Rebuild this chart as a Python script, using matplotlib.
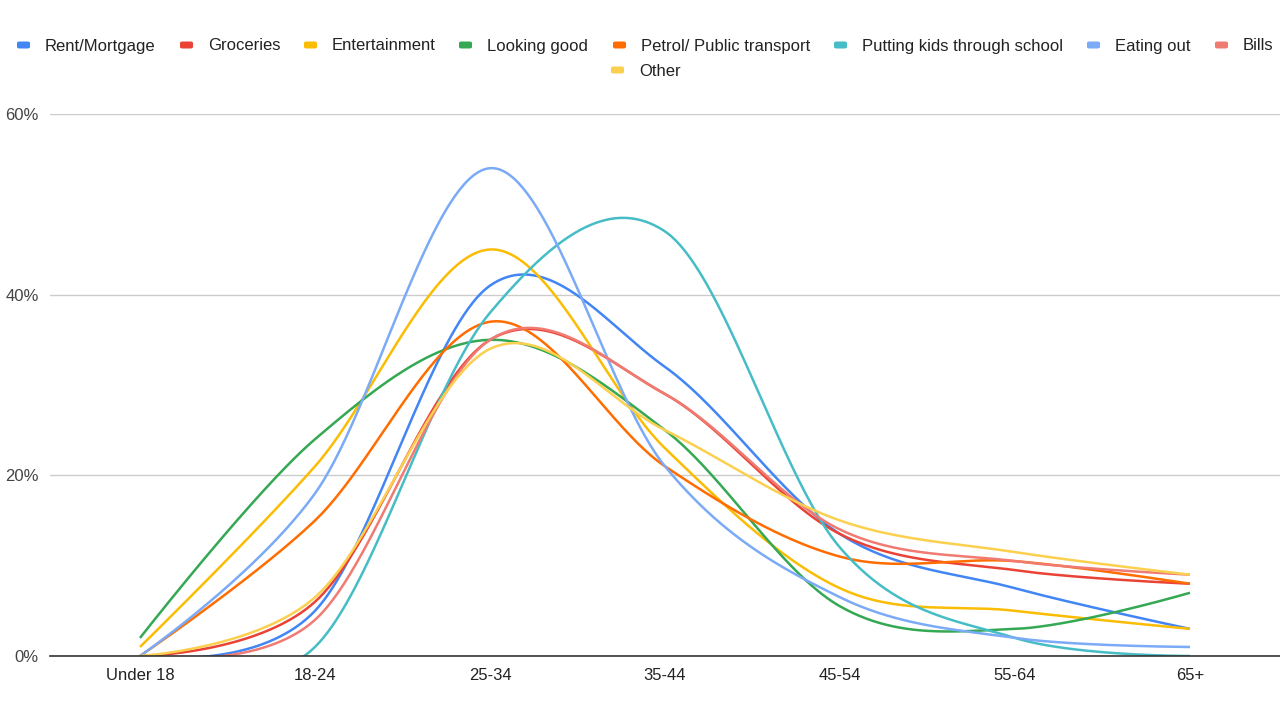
import numpy as np
import matplotlib
matplotlib.use("Agg")
import matplotlib.pyplot as plt
from matplotlib.patches import FancyBboxPatch

# ---- data ----
categories = ["Under 18", "18-24", "25-34", "35-44", "45-54", "55-64", "65+"]
rent = [0, 5, 41, 32, 13.5, 7.5, 3]
groceries = [0, 6, 35, 29, 13.5, 9.5, 8]
entertainment = [1, 21, 45, 23, 7.5, 5, 3]
looking_good = [2, 24, 35, 25, 5.5, 3, 7]
petrol = [0, 15, 37, 21, 11, 10.5, 8]
kids_school = [0, 1, 38, 47, 12, 2, 0]
eating_out = [0, 18, 54, 21, 6.5, 2, 1]
bills = [0, 4, 35, 29, 14, 10.5, 9]
other = [0, 6.5, 34, 25, 15, 11.5, 9]

series_names = ["Rent/Mortgage", "Groceries", "Entertainment", "Looking good",
                "Petrol/ Public transport", "Putting kids through school",
                "Eating out", "Bills", "Other"]
series_values = [rent, groceries, entertainment, looking_good, petrol,
                 kids_school, eating_out, bills, other]
colors = ["#4285F4", "#EA4335", "#FBBC04", "#34A853", "#FF6D01",
          "#46BDC6", "#7BAAF7", "#F07B72", "#FCD04F"]
y_ticks = [0, 20, 40, 60]


def smooth(y, n=80):
    """Bezier smoothing through the points (control = endpoint at the ends)."""
    y = np.asarray(y, dtype=float)
    k = len(y)
    xp = np.arange(k, dtype=float)
    tx = np.zeros(k)
    ty = np.zeros(k)
    tx[1:-1] = (xp[2:] - xp[:-2]) / 2.0
    ty[1:-1] = (y[2:] - y[:-2]) / 2.0
    xs, ys = [], []
    for i in range(k - 1):
        t = np.linspace(0, 1, n, endpoint=(i == k - 2))
        p0 = np.array([xp[i], y[i]])
        p3 = np.array([xp[i + 1], y[i + 1]])
        p1 = p0 + np.array([tx[i], ty[i]]) / 3.0
        p2 = p3 - np.array([tx[i + 1], ty[i + 1]]) / 3.0
        b0 = (1 - t) ** 3
        b1 = 3 * (1 - t) ** 2 * t
        b2 = 3 * (1 - t) * t ** 2
        b3 = t ** 3
        xs.append(b0 * p0[0] + b1 * p1[0] + b2 * p2[0] + b3 * p3[0])
        ys.append(b0 * p0[1] + b1 * p1[1] + b2 * p2[1] + b3 * p3[1])
    return np.concatenate(xs), np.concatenate(ys)


plt.rcParams["font.family"] = ["Liberation Sans", "DejaVu Sans"]
W, H = 1280, 720
fig = plt.figure(figsize=(12.8, 7.2), dpi=100)
ax = fig.add_axes([50 / W, 1 - 656 / H, 1 - 50 / W, (656 - 114) / H])

x = np.arange(len(categories))
for name, vals, c in zip(series_names, series_values, colors):
    xs, ys = smooth(vals)
    ax.plot(xs, ys, color=c, lw=1.8, solid_capstyle="butt", zorder=3)

ax.set_xlim(-90 / 175, 6 + 90 / 175)
ax.set_ylim(0, 60)
ax.set_yticks(y_ticks)
ax.set_yticklabels([f"{v}%" for v in y_ticks])
ax.set_xticks(x)
ax.set_xticklabels(categories)
ax.tick_params(axis="y", length=0, pad=8, labelsize=12, labelcolor="#444444")
ax.tick_params(axis="x", length=0, pad=9, labelsize=12, labelcolor="#222222")
ax.grid(axis="y", color="#cccccc", lw=1)
ax.set_axisbelow(True)
for s in ["top", "right", "left"]:
    ax.spines[s].set_visible(False)
ax.spines["bottom"].set_color("#333333")
ax.spines["bottom"].set_linewidth(1.2)
ax.spines["bottom"].set_zorder(4)

# ---- legend (manual, Google-style) ----
legend_pos = [(17, 45), (180, 45), (304, 45), (459, 45), (613, 45),
              (834, 45), (1087, 45), (1215, 45), (611, 70)]
for (px, py), name, c in zip(legend_pos, series_names, colors):
    mw, mh = 13, 7
    rect = FancyBboxPatch((px / W, 1 - (py + mh / 2) / H), mw / W, mh / H,
                          boxstyle="round,pad=0,rounding_size=0.002",
                          transform=fig.transFigure, facecolor=c,
                          edgecolor="none")
    fig.patches.append(rect)
    fig.text((px + 28) / W, 1 - (py + 5.5) / H, name, fontsize=12,
             color="#222222", va="baseline", ha="left")

fig.savefig("out.png", dpi=100)
